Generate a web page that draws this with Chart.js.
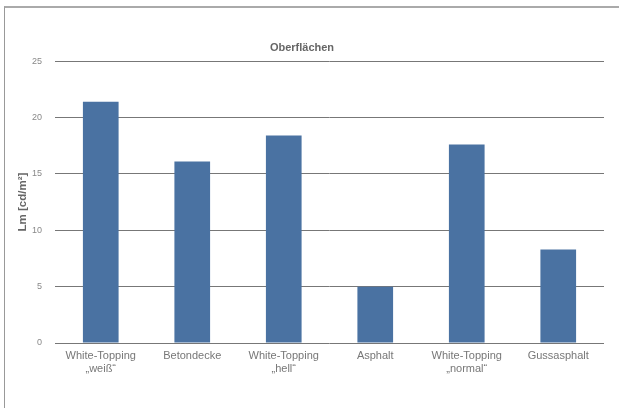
<!DOCTYPE html>
<html>
<head>
<meta charset="utf-8">
<script src="https://cdn.jsdelivr.net/npm/chart.js@4"></script>
<style>
    html, body { margin: 0; padding: 0; background: #fff; overflow: hidden; }
    #frame {
        position: absolute; left: 4px; top: 6px; width: 700px; height: 500px;
        border-top: 2px solid #aaa; border-left: 1px solid #999;
    }
    #chart { position: absolute; left: 0; top: 0; }
</style>
</head>
<body>
<div id="frame"></div>
<canvas id="chart" width="619" height="408"></canvas>
<script>
// Chart data
const categories = [
    ['White-Topping', '\u201Eweiß\u201C'],
    'Betondecke',
    ['White-Topping', '\u201Ehell\u201C'],
    'Asphalt',
    ['White-Topping', '\u201Enormal\u201C'],
    'Gussasphalt'
];
const luminance = [21.4, 16.1, 18.4, 5.0, 17.6, 8.3];
const yTicks = [0, 5, 10, 15, 20, 25];

const FONT = "'Liberation Sans', Arial, sans-serif";

const ctx = document.getElementById('chart').getContext('2d');
new Chart(ctx, {
    type: 'bar',
    data: {
        labels: categories,
        datasets: [{
            data: luminance,
            backgroundColor: '#4a72a2',
            borderWidth: 0,
            categoryPercentage: 1,
            barPercentage: 0.39
        }]
    },
    options: {
        responsive: false,
        animation: false,
        layout: { padding: { left: 0, right: 15, top: 41, bottom: 0 } },
        plugins: {
            legend: { display: false },
            tooltip: { enabled: false },
            title: {
                display: true,
                text: 'Oberflächen',
                color: '#666',
                font: { family: FONT, size: 11, weight: 'bold' },
                padding: { top: 0, bottom: 7 }
            }
        },
        scales: {
            x: {
                grid: { display: false, drawTicks: false },
                border: { display: false },
                ticks: {
                    color: '#777',
                    font: { family: FONT, size: 11 },
                    padding: 6,
                    maxRotation: 0,
                    autoSkip: false
                },
                afterFit: (scale) => { scale.height = 65; }
            },
            y: {
                min: 0,
                max: 25,
                afterBuildTicks: (scale) => {
                    scale.ticks = yTicks.map(v => ({ value: v }));
                },
                grid: { color: '#777', lineWidth: 1, drawTicks: false },
                border: { display: false },
                ticks: {
                    color: '#888',
                    font: { family: FONT, size: 9 },
                    padding: 13
                },
                title: {
                    display: true,
                    text: 'Lm [cd/m²]',
                    color: '#666',
                    font: { family: FONT, size: 11.5, weight: 'bold' },
                    padding: { top: 16, bottom: 0 }
                },
                afterFit: (scale) => { scale.width = 55; }
            }
        }
    }
});
</script>
</body>
</html>
